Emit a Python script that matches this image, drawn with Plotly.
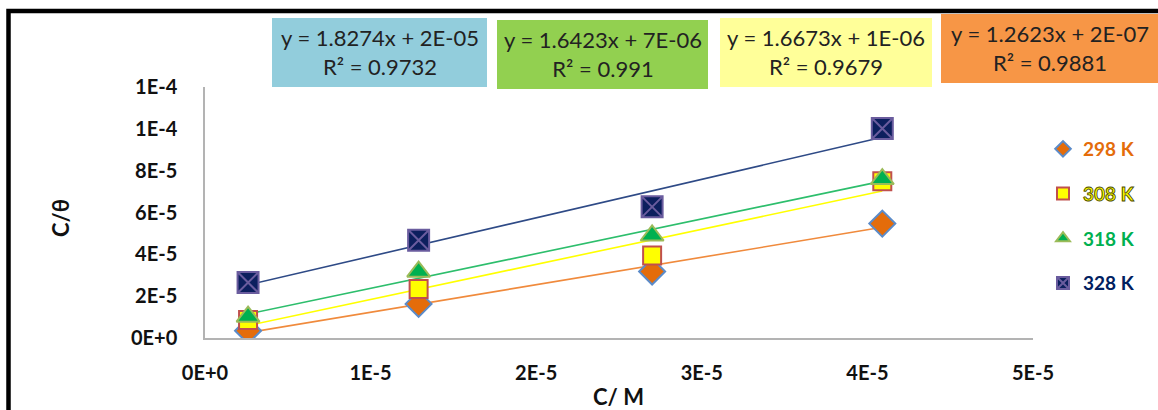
import numpy as np
import plotly.graph_objects as go

# ---------------- data ----------------
conc = [2.6e-6, 1.29e-5, 2.70e-5, 4.09e-5]          # C / M
y_298 = [0.35e-5, 1.63e-5, 3.18e-5, 5.47e-5]         # C/theta
y_308 = [0.86e-5, 2.34e-5, 3.95e-5, 7.50e-5]
y_318 = [1.02e-5, 3.17e-5, 4.90e-5, 7.60e-5]
y_328 = [2.65e-5, 4.67e-5, 6.27e-5, 10.02e-5]

series_names = ["298 K", "308 K", "318 K", "328 K"]

x_tickvals = [0, 1e-5, 2e-5, 3e-5, 4e-5, 5e-5]
x_ticktext = ["0E+0", "1E-5", "2E-5", "3E-5", "4E-5", "5E-5"]
y_tickvals = [0, 2e-5, 4e-5, 6e-5, 8e-5, 10e-5, 12e-5]
y_ticktext = ["0E+0", "2E-5", "4E-5", "6E-5", "8E-5", "1E-4", "1E-4"]

eq_lines = ["y = 1.8274x + 2E-05", "y = 1.6423x + 7E-06",
            "y = 1.6673x + 1E-06", "y = 1.2623x + 2E-07"]
r2_lines = ["R² = 0.9732", "R² = 0.991", "R² = 0.9679", "R² = 0.9881"]

# ---------------- styling ----------------
W, H = 1158, 410
L, R, T, B = 205, 125, 87, 72
PW, PH = W - L - R, H - T - B

def px(xp):
    return (xp - L) / PW

def py(yp):
    return (H - B - yp) / PH

styles = {
    "298 K": dict(symbol="diamond", size=20, color="#E46C0A", lc="#5B8BC9",
                  tr="#F08A3C", txt='<span style="color:#E46C0A">298 K</span>'),
    "308 K": dict(symbol="square", size=18, color="#FFFF00", lc="#C0504D",
                  tr="#FFFF00",
                  txt='<span style="color:#FFFF00;stroke:#4A4A00;stroke-width:0.9px">308 K</span>'),
    "318 K": dict(symbol="triangle-up", size=20, color="#00B050", lc="#9BBB59",
                  tr="#2DBE6C", txt='<span style="color:#00B050">318 K</span>'),
    "328 K": dict(symbol="square-x", size=21, color="#0C1F5E", lc="#6A5C9E",
                  tr="#2E4A86", txt='<span style="color:#002060">328 K</span>'),
}

series_vals = {"298 K": y_298, "308 K": y_308, "318 K": y_318, "328 K": y_328}

fig = go.Figure()

# trendlines (least squares fit over data range)
for name in series_names:
    yv = np.array(series_vals[name])
    xv = np.array(conc)
    m, c = np.polyfit(xv, yv, 1)
    xs = np.array([xv.min(), xv.max()])
    fig.add_trace(go.Scatter(x=xs, y=m * xs + c, mode="lines",
                             line=dict(color=styles[name]["tr"], width=1.6),
                             showlegend=False, hoverinfo="skip"))

for i, name in enumerate(series_names):
    s = styles[name]
    fig.add_trace(go.Scatter(
        x=conc, y=series_vals[name], mode="markers", name=s["txt"],
        legendgroup=name,
        marker=dict(symbol=s["symbol"], size=s["size"], color=s["color"],
                    line=dict(color=s["lc"], width=2)),
    ))

font_main = "Lato, 'Open Sans', sans-serif"

fig.update_layout(
    width=W, height=H,
    margin=dict(l=L, r=R, t=T, b=B, pad=0),
    paper_bgcolor="white", plot_bgcolor="white",
    font=dict(family=font_main, color="#1a1a1a"),
    showlegend=True,
    legend=dict(x=px(1043), y=py(130), xanchor="left", yanchor="top",
                font=dict(family=font_main, size=19, weight="bold"),
                tracegroupgap=17, traceorder="grouped", itemsizing="constant",
                bgcolor="rgba(0,0,0,0)", itemwidth=30),
    xaxis=dict(range=[0, 5e-5], tickvals=x_tickvals, ticktext=x_ticktext,
               showgrid=False, zeroline=False, showline=True,
               linecolor="#B3B3B3", linewidth=1.5, ticks="",
               ticklabelstandoff=16,
               tickfont=dict(family=font_main, size=20, weight="bold", color="#111")),
    yaxis=dict(range=[0, 12e-5], tickvals=y_tickvals, ticktext=y_ticktext,
               showgrid=False, zeroline=False, showline=True,
               linecolor="#B3B3B3", linewidth=1.5, ticks="",
               ticklabelstandoff=22,
               tickfont=dict(family=font_main, size=20, weight="bold", color="#111")),
)

# equation boxes
boxes = [
    (272, 487, 18, 87, "#92CDDC"),
    (497, 708, 20, 89, "#92D050"),
    (720, 932, 18, 87, "#FFFF99"),
    (941, 1158, 14, 83, "#F79646"),
]
for (x0, x1, y0, y1, col), eq, r2 in zip(boxes, eq_lines, r2_lines):
    fig.add_shape(type="rect", xref="paper", yref="paper",
                  x0=px(x0), x1=px(x1), y0=py(y1), y1=py(y0),
                  fillcolor=col, line=dict(width=0), layer="above")
    fig.add_annotation(xref="paper", yref="paper",
                       x=px((x0 + x1) / 2), y=py((y0 + y1) / 2),
                       xanchor="center", yanchor="middle",
                       text=eq + "<br>" + r2, showarrow=False, align="center",
                       font=dict(family=font_main, size=22, color="#222"))

# axis titles
fig.add_annotation(xref="paper", yref="paper", x=px(618), y=py(396),
                   xanchor="center", yanchor="middle", showarrow=False,
                   text="C/ M", font=dict(family=font_main, size=22,
                                          weight="bold", color="#111"))
fig.add_annotation(xref="paper", yref="paper", x=px(60), y=py(218),
                   xanchor="center", yanchor="middle", showarrow=False,
                   textangle=-90, text="C/θ",
                   font=dict(family=font_main, size=22, weight="bold", color="#111"))

# outer black border (top and left visible)
fig.add_shape(type="rect", xref="paper", yref="paper",
              x0=px(8.5), x1=px(1200), y0=py(460), y1=py(11),
              line=dict(color="black", width=4.5), fillcolor="rgba(0,0,0,0)",
              layer="above")

fig.write_html("out.html", config={"displayModeBar": False},
               post_script="document.body.style.margin='0';document.body.style.overflow='hidden';")
